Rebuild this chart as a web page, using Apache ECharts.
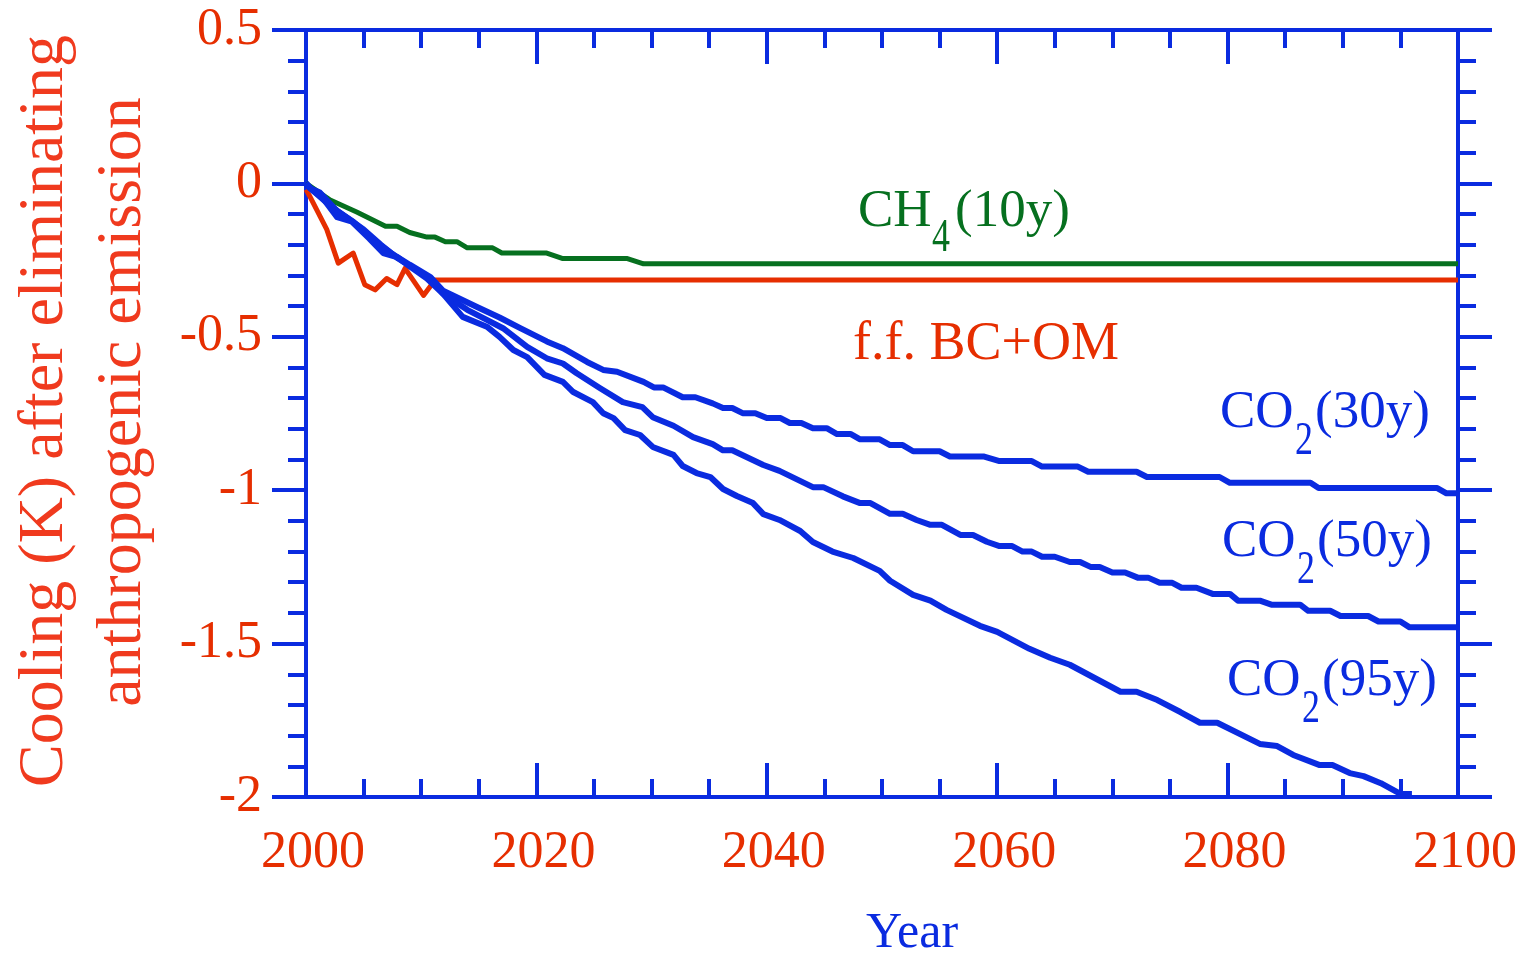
<!DOCTYPE html>
<html><head><meta charset="utf-8">
<script src="https://cdn.jsdelivr.net/npm/echarts@6/dist/echarts.min.js"></script>
<style>html,body{margin:0;padding:0;background:#fff}#c{width:1524px;height:959px}</style>
</head><body><div id="c"></div>
<script>
// ---- data ----
const xMin = 2000, xMax = 2100, xStep = 20;
const yMin = -2, yMax = 0.5, yStep = 0.5;

const ch4Years = [2000, 2000.6, 2002.1, 2004.4, 2006.9, 2007.9, 2009, 2010.5, 2011.2, 2012.1, 2013.1, 2014, 2016.2, 2017, 2020.9, 2022.3, 2027.9, 2029.3, 2100];
const ch4Vals  = [0, -0.015, -0.054, -0.093, -0.14, -0.14, -0.16, -0.175, -0.175, -0.19, -0.19, -0.21, -0.21, -0.227, -0.227, -0.245, -0.245, -0.262, -0.262];

const bcYears = [2000, 2000.3, 2001.8, 2002.8, 2004.1, 2005.1, 2006, 2007, 2007.9, 2008.6, 2010.2, 2011.2, 2100];
const bcVals  = [-0.02, -0.04, -0.15, -0.26, -0.227, -0.33, -0.347, -0.31, -0.33, -0.277, -0.365, -0.315, -0.315];

const co2_30Years = [2000, 2000.3, 2001.2, 2002.7, 2004.1, 2006.4, 2007.3, 2009, 2010.8, 2011.9, 2014.8, 2016.8, 2018.6, 2020.9, 2022.3, 2024.4, 2025.8, 2027, 2029.3, 2030.2, 2031, 2032.7, 2033.8, 2035.3, 2036.2, 2037, 2037.9, 2039, 2040, 2041.2, 2042, 2043, 2044, 2045.2, 2046.1, 2047.3, 2048.1, 2049.8, 2050.7, 2051.8, 2052.7, 2055, 2055.9, 2058.8, 2060.2, 2063, 2063.9, 2067, 2067.9, 2072.1, 2073, 2079.3, 2080.2, 2087.2, 2087.9, 2098.2, 2099, 2100];
const co2_30Vals  = [0, -0.015, -0.03, -0.09, -0.125, -0.2, -0.225, -0.265, -0.305, -0.35, -0.402, -0.437, -0.472, -0.515, -0.537, -0.582, -0.608, -0.614, -0.647, -0.665, -0.665, -0.697, -0.697, -0.717, -0.732, -0.732, -0.749, -0.749, -0.765, -0.765, -0.781, -0.781, -0.798, -0.798, -0.817, -0.817, -0.834, -0.834, -0.853, -0.853, -0.873, -0.873, -0.89, -0.89, -0.905, -0.905, -0.923, -0.923, -0.94, -0.94, -0.957, -0.957, -0.976, -0.976, -0.993, -0.993, -1.01, -1.01];

const co2_50Years = [2000, 2000.5, 2002, 2003.5, 2005, 2006.5, 2008, 2009.5, 2010.8, 2011.9, 2014, 2015.7, 2017.1, 2019.2, 2020.9, 2022.3, 2023.5, 2025.5, 2027.5, 2029.2, 2030.1, 2031.9, 2033.6, 2035.3, 2036.2, 2037, 2039.7, 2041.1, 2044, 2044.9, 2046.6, 2048.1, 2049, 2050.7, 2051.8, 2053, 2054.2, 2055.2, 2056.8, 2057.9, 2059.1, 2060.2, 2061.3, 2062.2, 2063, 2063.9, 2065, 2066.3, 2067.2, 2068.1, 2068.9, 2070, 2071.1, 2072.2, 2073.1, 2074.1, 2075.2, 2076, 2077.3, 2078.7, 2080.2, 2080.9, 2082.8, 2083.8, 2086.3, 2087, 2088.9, 2089.8, 2092.2, 2093.1, 2095, 2095.8, 2100];
const co2_50Vals  = [0, -0.02, -0.07, -0.11, -0.15, -0.2, -0.245, -0.28, -0.31, -0.36, -0.412, -0.445, -0.472, -0.533, -0.57, -0.587, -0.619, -0.667, -0.713, -0.729, -0.762, -0.79, -0.827, -0.85, -0.87, -0.87, -0.918, -0.937, -0.99, -0.99, -1.02, -1.042, -1.042, -1.077, -1.077, -1.097, -1.113, -1.113, -1.146, -1.146, -1.168, -1.182, -1.182, -1.2, -1.2, -1.217, -1.217, -1.234, -1.234, -1.25, -1.25, -1.268, -1.268, -1.285, -1.285, -1.302, -1.302, -1.318, -1.318, -1.338, -1.338, -1.36, -1.36, -1.373, -1.373, -1.393, -1.393, -1.41, -1.41, -1.428, -1.428, -1.447, -1.447];

const co2_95Years = [2000, 2000.5, 2001.5, 2002.7, 2004, 2005.5, 2006.7, 2007.9, 2009, 2010.5, 2011.9, 2013.6, 2015.7, 2016.8, 2018, 2019.2, 2020.7, 2022.3, 2023.2, 2024.9, 2025.8, 2026.7, 2027.7, 2029, 2030.1, 2031.9, 2032.7, 2033.9, 2035.1, 2036.2, 2037.4, 2038.8, 2039.7, 2041.1, 2042.9, 2044, 2045.7, 2047.5, 2049.8, 2050.7, 2052.7, 2054.2, 2055.6, 2058.5, 2060, 2062.8, 2064.6, 2066.3, 2070.7, 2072.1, 2073.9, 2075.9, 2077.6, 2079.1, 2082.8, 2084.3, 2085.7, 2088, 2089.1, 2090.6, 2091.8, 2093.3, 2095, 2096];
const co2_95Vals  = [0, -0.02, -0.05, -0.11, -0.125, -0.18, -0.227, -0.24, -0.27, -0.31, -0.36, -0.435, -0.467, -0.5, -0.543, -0.566, -0.624, -0.647, -0.68, -0.713, -0.749, -0.765, -0.804, -0.82, -0.859, -0.885, -0.921, -0.944, -0.957, -0.996, -1.019, -1.042, -1.078, -1.097, -1.133, -1.169, -1.2, -1.221, -1.263, -1.295, -1.341, -1.36, -1.39, -1.442, -1.462, -1.517, -1.546, -1.569, -1.657, -1.657, -1.684, -1.723, -1.758, -1.758, -1.827, -1.834, -1.863, -1.896, -1.896, -1.922, -1.932, -1.955, -1.99, -1.99];

// ---- styling ----
const BLUE = '#0a2be0', RED = '#e62e00', GREEN = '#06701f', TITLE_RED = '#f03a1e';
const FONT = '"Liberation Serif", "Times New Roman", "DejaVu Serif", serif';

function pairs(xs, ys) { return xs.map((x, i) => [x, ys[i]]); }

const chart = echarts.init(document.getElementById('c'), null, { renderer: 'canvas' });

function axisBase(showLabel, inside) {
  return {
    axisLine: { show: true, onZero: false, lineStyle: { color: BLUE, width: 4 } },
    axisTick: { show: true, inside: inside, length: 34, lineStyle: { color: BLUE, width: 4 } },
    minorTick: { show: true, length: 18, lineStyle: { color: BLUE, width: 4 } },
    splitLine: { show: false },
    minorSplitLine: { show: false },
    axisLabel: { show: showLabel, fontFamily: FONT, fontSize: 52, color: RED }
  };
}

const xBottom = Object.assign(axisBase(true, true), {
  type: 'value', position: 'bottom', min: xMin, max: xMax, interval: xStep,
  name: 'Year', nameLocation: 'middle', nameGap: 112,
  nameTextStyle: { fontFamily: FONT, fontSize: 50, color: BLUE, padding: [0, 0, 0, 60] }
});
xBottom.minorTick.splitNumber = 4;
xBottom.axisLabel.margin = 30;
xBottom.axisLabel.formatter = v => String(v);
xBottom.axisLabel.padding = [0, 0, 0, 14];

const xTop = Object.assign(axisBase(false, true), {
  type: 'value', position: 'top', min: xMin, max: xMax, interval: xStep
});
xTop.minorTick.splitNumber = 4;

const yLeft = Object.assign(axisBase(true, false), {
  type: 'value', position: 'left', min: yMin, max: yMax, interval: yStep
});
yLeft.minorTick.splitNumber = 5;
yLeft.axisLabel.margin = 44;
yLeft.axisLabel.formatter = v => String(Math.round(v * 10) / 10);

const yRight = Object.assign(axisBase(false, false), {
  type: 'value', position: 'right', min: yMin, max: yMax, interval: yStep
});
yRight.minorTick.splitNumber = 5;

function lineSeries(name, xs, ys, color, width) {
  return {
    name: name, type: 'line', xAxisIndex: 0, yAxisIndex: 0,
    data: pairs(xs, ys), showSymbol: false, symbol: 'none', smooth: false,
    lineStyle: { color: color, width: width, join: 'round', cap: 'butt' },
    animation: false, z: 1
  };
}

function txt(x, y, s, size, color, extra) {
  return Object.assign({
    type: 'text', x: x, y: y,
    style: { text: s, fontFamily: FONT, fontSize: size, fill: color, align: 'left', verticalAlign: 'middle' },
    z: 10
  }, extra || {});
}
function rot(x, y, s) {
  return {
    type: 'text', x: x, y: y, rotation: Math.PI / 2,
    style: { text: s, fontFamily: FONT, fontSize: 64, fill: TITLE_RED, align: 'center', verticalAlign: 'middle' },
    z: 10
  };
}

// labels with subscripts (pixel layout)
const graphics = [
  rot(45, 411, 'Cooling (K) after eliminating'),
  rot(123, 402, 'anthropogenic emission'),
  // CH4(10y)
  txt(858, 212, 'CH', 53, GREEN),
  txt(932, 239, '4', 46, GREEN, { scaleX: 0.78 }),
  txt(955, 212, '(10y)', 53, GREEN),
  // f.f. BC+OM
  txt(853, 345, 'f.f. BC+OM', 54, RED),
  // CO2 labels
  txt(1220, 413, 'CO', 53, BLUE),
  txt(1295, 442, '2', 46, BLUE, { scaleX: 0.78 }),
  txt(1315, 413, '(30y)', 53, BLUE),
  txt(1222, 542, 'CO', 53, BLUE),
  txt(1297, 571, '2', 46, BLUE, { scaleX: 0.78 }),
  txt(1317, 542, '(50y)', 53, BLUE),
  txt(1227, 681, 'CO', 53, BLUE),
  txt(1302, 710, '2', 46, BLUE, { scaleX: 0.78 }),
  txt(1322, 681, '(95y)', 53, BLUE)
];

chart.setOption({
  animation: false,
  backgroundColor: '#ffffff',
  grid: { left: 306, right: 66, top: 30, bottom: 162, containLabel: false, outerBoundsMode: 'none' },
  xAxis: [xBottom, xTop],
  yAxis: [yLeft, yRight],
  series: [
    lineSeries('CH4(10y)', ch4Years, ch4Vals, GREEN, 5),
    lineSeries('f.f. BC+OM', bcYears, bcVals, RED, 5),
    lineSeries('CO2(30y)', co2_30Years, co2_30Vals, BLUE, 6),
    lineSeries('CO2(50y)', co2_50Years, co2_50Vals, BLUE, 6),
    lineSeries('CO2(95y)', co2_95Years, co2_95Vals, BLUE, 6)
  ],
  graphic: graphics
});
</script>
</body></html>
